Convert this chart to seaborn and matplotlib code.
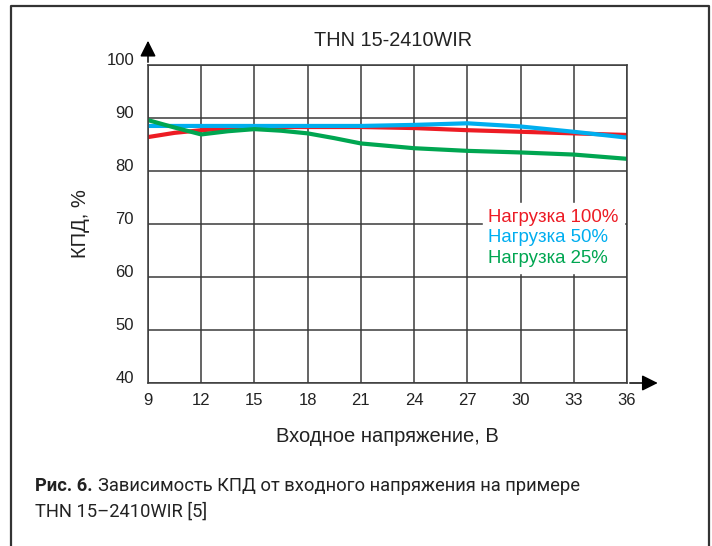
import pandas as pd
import matplotlib.pyplot as plt
import seaborn as sns
from matplotlib.lines import Line2D

# data
voltage = [9, 10.5, 12, 13.5, 15, 16.5, 18, 19.5, 21, 24, 27, 30, 33, 36]
load_100 = [86.4, 87.2, 87.7, 88.0, 88.2, 88.3, 88.3, 88.3, 88.3, 88.1, 87.7, 87.4, 87.1, 86.8]
load_50 = [88.5, 88.5, 88.5, 88.5, 88.5, 88.5, 88.5, 88.5, 88.5, 88.7, 89.0, 88.4, 87.4, 86.3]
load_25 = [89.6, 88.2, 86.9, 87.5, 87.9, 87.6, 87.1, 86.2, 85.2, 84.3, 83.8, 83.5, 83.1, 82.3]
series_names = ["Нагрузка 100%", "Нагрузка 50%", "Нагрузка 25%"]
series_colors = ["#ED1C24", "#00AEEF", "#00A651"]
x_ticks = [9, 12, 15, 18, 21, 24, 27, 30, 33, 36]
y_ticks = [40, 50, 60, 70, 80, 90, 100]

df = pd.DataFrame({
    "voltage": voltage * 3,
    "kpd": load_100 + load_50 + load_25,
    "series": [series_names[0]] * len(voltage) + [series_names[1]] * len(voltage)
              + [series_names[2]] * len(voltage),
})

sns.set_style("white")
plt.rcParams["font.family"] = ["Liberation Sans", "DejaVu Sans"]

fig = plt.figure(figsize=(7.12, 5.46), dpi=100)
ax = fig.add_axes([148 / 712, 1 - 383 / 546, 479 / 712, 318 / 546])

sns.lineplot(data=df, x="voltage", y="kpd", hue="series", palette=series_colors,
             linewidth=3, ax=ax, legend=True)

grid_c = "#3a3a3a"
ax.set_xlim(9, 36)
ax.set_ylim(40, 100)
ax.set_xticks(x_ticks)
ax.set_yticks(y_ticks)
ax.grid(True, color=grid_c, lw=1.1)
ax.set_axisbelow(True)
for s in ax.spines.values():
    s.set_color(grid_c)
    s.set_linewidth(1.1)
ax.tick_params(length=0, labelsize=12, colors="#222222")
ax.tick_params(axis="y", pad=10)
ax.tick_params(axis="x", pad=7)
for lab in ax.get_yticklabels():
    lab.set_va("baseline")

ax.set_xlabel("Входное напряжение, В", fontsize=14.5, labelpad=14, color="#222222")
ax.set_ylabel("КПД, %", fontsize=14.5, labelpad=12, color="#222222")

# arrows on the axes
ax.annotate("", xy=(0, 1.085), xytext=(0, 1.0), xycoords="axes fraction",
            arrowprops=dict(arrowstyle="-|>", color="black", lw=1.1, mutation_scale=24))
ax.annotate("", xy=(1.07, 0), xytext=(1.0, 0), xycoords="axes fraction",
            arrowprops=dict(arrowstyle="-|>", color="black", lw=1.1, mutation_scale=24))

leg = ax.legend(loc="upper left", bbox_to_anchor=(0.699, 0.566), frameon=True,
                handlelength=0, handletextpad=0, labelcolor="linecolor",
                fontsize=13.4, borderpad=0.3, labelspacing=0.2, borderaxespad=0,
                fancybox=False, framealpha=1)
leg.get_frame().set_edgecolor("white")
for h in leg.legend_handles:
    h.set_visible(False)

fig.text(393 / 712, 1 - 40 / 546, "THN 15-2410WIR", ha="center", va="center",
         fontsize=14.3, color="#222222")

# caption
cap_font = ["Roboto", "DejaVu Sans"]
cap_size = 13.2
bold = fig.text(35 / 712, 1 - 486 / 546, "Рис. 6.", ha="left", va="center",
                fontsize=cap_size, fontweight="bold", family=cap_font, color="#222222")
fig.text(35 / 712, 1 - 512 / 546, "THN 15–2410WIR [5]", ha="left", va="center",
         fontsize=cap_size, family=cap_font, color="#222222")
plt.annotate("Зависимость КПД от входного напряжения на примере", xy=(1, 0),
             xycoords=bold, xytext=(4, 0), textcoords="offset points", ha="left",
             va="bottom", fontsize=cap_size, family=cap_font, color="#222222")

# frame around the figure (open at the bottom)
fig.add_artist(Line2D([11 / 712, 11 / 712, 709 / 712, 709 / 712],
                      [0, 1 - 6 / 546, 1 - 6 / 546, 0], transform=fig.transFigure,
                      color="#333333", lw=1.6))

plt.savefig("out.png", dpi=100)
